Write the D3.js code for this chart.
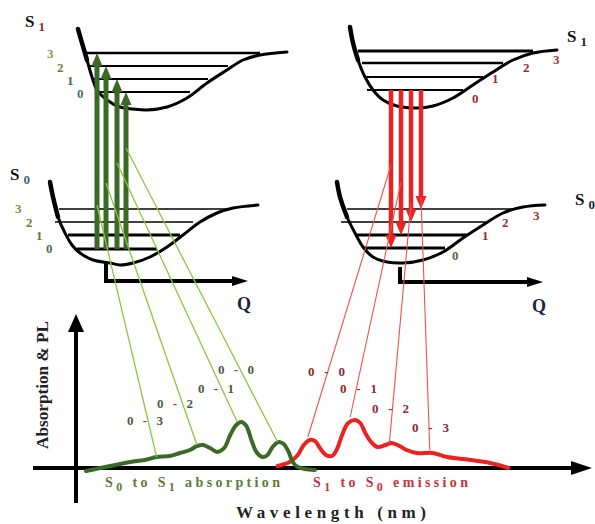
<!DOCTYPE html>
<html><head><meta charset="utf-8">
<script src="https://cdn.jsdelivr.net/npm/d3@7"></script>
<style>
html,body{margin:0;padding:0;background:#fff;}
svg{display:block;}
</style></head><body>
<svg id="c" width="595" height="524"></svg>
<script>
// ---------- DATA ----------
// Spectra: wavelength (nm) and relative intensity
const absNm = [310,324,339,354,368,380,393,403,413,420,426,433,440,447,453,459,464,469,474,479,485,490,495,501,506,511,515,520,527,537];
const absI  = [-0.06,0,0.06,0.12,0.16,0.22,0.24,0.30,0.36,0.44,0.46,0.40,0.32,0.40,0.66,0.86,0.92,0.84,0.56,0.32,0.22,0.26,0.42,0.52,0.48,0.32,0.12,0.02,-0.02,-0.04];
const emNm  = [500,512,520,526,532,537,542,548,554,559,564,570,577,582,587,592,599,607,613,621,628,638,654,668,684,711,729];
const emI   = [0.04,0.12,0.26,0.46,0.56,0.54,0.40,0.26,0.24,0.38,0.66,0.90,0.96,0.90,0.70,0.54,0.42,0.46,0.50,0.44,0.36,0.30,0.30,0.22,0.18,0.10,0];

// Potential wells: [configuration coordinate Q, energy E]
const wellS1Abs = [[15.6,54.2],[16.4,51.4],[17.4,48],[18.4,44.6],[19.4,42],[21.4,40],[24,38.6],[26.6,38.2],[29.4,38],[33.4,38.6],[37.4,40.4],[41.4,43.4],[45.4,46],[48.6,48],[52,49],[57.4,49.6]];
const wellS0Abs = [[10,23.6],[10.6,20.6],[11.6,16.6],[13,13.4],[14.4,11],[16,9.4],[18.6,8],[22,7.4],[24,7],[26.6,7.4],[30,8.6],[33.4,10.6],[36.6,13],[40,15.6],[43.4,17.4],[46.6,18.4],[51.6,19]];
const wellS1Em  = [[70,54.6],[70.6,51.4],[71.6,48],[73,44.6],[74.6,42],[76.6,40],[79.4,38.8],[83.4,38.4],[86.6,38.8],[90.6,40.4],[94.6,43],[98.6,45.6],[102.6,48],[106.6,49.4],[111.4,50]];
const wellS0Em  = [[67.4,23.6],[68,20.6],[69.4,16.6],[71,13.4],[72.6,10.6],[74.6,8.6],[77.4,7.6],[80.6,7.4],[84.6,8],[88.6,9.6],[92.6,12.4],[96.6,15],[100.6,17.4],[104.6,18.6],[109,19]];

// Vibrational levels: energy, Q start, Q end (levels 3,2,1,0)
const levelsS1AbsE = [49.4,46.8,44.2,41.6];
const levelsS1AbsQ = [[17,52],[18,45.6],[18.6,41.6],[19.6,38]];
const levelsS0AbsE = [18.2,15.6,13,10.2];
const levelsS0AbsQ = [[11.8,46],[11,38.6],[13.6,36],[15.4,31.4]];
const levelsS1EmE  = [49.8,47.4,44.6,42];
const levelsS1EmQ  = [[71.6,106.6],[72.4,100.6],[73,96.6],[73.4,92.6]];
const levelsS0EmE  = [18.2,15.6,13,10.4];
const levelsS0EmQ  = [[69.4,102.6],[68.2,97.4],[71,93.4],[72.6,89]];
const levelNames = ["3","2","1","0"];

// Vertical transitions
const absArrowQ = [19.4,21.2,23.4,25.2];
const absArrowTo = [49.4,46.8,44.2,41.6];
const emArrowQ = [78.2,80.2,82.2,84.2];
const emArrowTo = [10.4,13,15.6,18.2];

// Connections from transitions to spectral peaks
const absLinkE  = [19,23.4,27.4,30.4];
const absPeakNm = [380,420,460,500];
const absPeakI  = [0.22,0.46,0.92,0.52];
const absLabels = ["0 - 3","0 - 2","0 - 1","0 - 0"];
const emLinkE   = [27,23.6,19.4,20.6];
const emPeakNm  = [530,572,611,651];
const emPeakI   = [0.62,1.02,0.52,0.36];
const emLabels  = ["0 - 0","0 - 1","0 - 2","0 - 3"];

// ---------- SCALES ----------
const qx = d3.scaleLinear().domain([0,119]).range([0,595]);
const ey = d3.scaleLinear().domain([0,60]).range([300,0]);
const wx = d3.scaleLinear().domain([300,800]).range([76,580]);
const iy = d3.scaleLinear().domain([0,1]).range([468,418]);

const svg = d3.select("#c");
const FONT = "Liberation Serif";
const cGreen = "#3b6a27", cRed = "#ec2222", cLightGreen = "#8dc63f", cLightRed = "#f0504f";

// ---------- WELLS ----------
const wellLine = d3.line().x(d=>qx(d[0])).y(d=>ey(d[1])).curve(d3.curveCatmullRom);
function drawLevels(E, Q, widths){
  svg.append("g").selectAll("line").data(E).join("line")
    .attr("x1",(d,i)=>qx(Q[i][0])).attr("x2",(d,i)=>qx(Q[i][1]))
    .attr("y1",d=>ey(d)).attr("y2",d=>ey(d))
    .attr("stroke","#000").attr("stroke-width",(d,i)=>widths[i]);
}
drawLevels(levelsS1AbsE, levelsS1AbsQ, [2.5,2,2,2]);
drawLevels(levelsS0AbsE, levelsS0AbsQ, [1.5,1.5,3,3]);
drawLevels(levelsS1EmE, levelsS1EmQ, [3,2.5,2,2]);
drawLevels(levelsS0EmE, levelsS0EmQ, [1.5,1.5,3,3]);
[wellS1Abs, wellS0Abs, wellS1Em, wellS0Em].forEach(w=>{
  svg.append("path").datum(w).attr("d",wellLine).attr("fill","none")
    .attr("stroke","#000").attr("stroke-width",3).attr("stroke-linecap","round");
  svg.append("path").datum(w.slice(0,3)).attr("d",wellLine).attr("fill","none")
    .attr("stroke","#000").attr("stroke-width",4.5).attr("stroke-linecap","round");
});

// Q axes
function qAxis(q0, e0, e1, q1){
  const x0 = qx(q0), y1 = ey(e1), xe = qx(q1);
  svg.append("path").attr("d",`M${x0},${ey(e0)}V${y1}H${xe-12}`)
    .attr("fill","none").attr("stroke","#000").attr("stroke-width",4);
  svg.append("path").attr("d",`M${xe},${y1}L${xe-16},${y1-5}L${xe-16},${y1+5}Z`).attr("fill","#000");
}
qAxis(21.2, 7.4, 3.8, 49.6);
qAxis(80, 6.6, 3.6, 108.6);

// ---------- ARROWS ----------
const absG = svg.append("g");
absArrowQ.forEach((q,i)=>{
  const x = qx(q), y0 = ey(levelsS0AbsE[3]), y1 = ey(absArrowTo[i]);
  absG.append("line").attr("x1",x).attr("x2",x).attr("y1",y0).attr("y2",y1+10)
    .attr("stroke",cGreen).attr("stroke-width",5);
  absG.append("path").attr("d",`M${x},${y1}L${x-5.5},${y1+13}L${x+5.5},${y1+13}Z`).attr("fill",cGreen);
});
const emG = svg.append("g");
emArrowQ.forEach((q,i)=>{
  const x = qx(q), y0 = ey(levelsS1EmE[3]), y1 = ey(emArrowTo[i]);
  emG.append("line").attr("x1",x).attr("x2",x).attr("y1",y0).attr("y2",y1-10)
    .attr("stroke",cRed).attr("stroke-width",4.5);
  emG.append("path").attr("d",`M${x},${y1}L${x-5.5},${y1-13}L${x+5.5},${y1-13}Z`).attr("fill",cRed);
});

// ---------- SPECTRUM AXES ----------
svg.append("line").attr("x1",76).attr("x2",76).attr("y1",503).attr("y2",326)
  .attr("stroke","#000").attr("stroke-width",4);
svg.append("path").attr("d","M76,314L68,332L84,332Z").attr("fill","#000");
svg.append("line").attr("x1",33).attr("x2",575).attr("y1",468).attr("y2",468)
  .attr("stroke","#000").attr("stroke-width",4);
svg.append("path").attr("d","M592,468L571,461L571,475Z").attr("fill","#000");

// ---------- SPECTRA ----------
const specLine = d3.line().x(d=>wx(d[0])).y(d=>iy(d[1])).curve(d3.curveCatmullRom);
svg.append("path").datum(emNm.map((n,i)=>[n,emI[i]])).attr("d",specLine)
  .attr("fill","none").attr("stroke",cRed).attr("stroke-width",4).attr("stroke-linejoin","round").attr("stroke-linecap","round");
svg.append("path").datum(absNm.map((n,i)=>[n,absI[i]])).attr("d",specLine)
  .attr("fill","none").attr("stroke",cGreen).attr("stroke-width",4).attr("stroke-linejoin","round").attr("stroke-linecap","round");

// ---------- LINKS ----------
absArrowQ.forEach((q,i)=>{
  svg.append("line").attr("x1",qx(q)).attr("y1",ey(absLinkE[i]))
    .attr("x2",wx(absPeakNm[i])).attr("y2",iy(absPeakI[i]))
    .attr("stroke",cLightGreen).attr("stroke-width",1.3);
});
emArrowQ.forEach((q,i)=>{
  svg.append("line").attr("x1",qx(q)).attr("y1",ey(emLinkE[i]))
    .attr("x2",wx(emPeakNm[i])).attr("y2",iy(emPeakI[i]))
    .attr("stroke",cLightRed).attr("stroke-width",1.1);
});

// ---------- TEXT ----------
function newText(x, y, color, size){
  return svg.append("text").attr("x",x).attr("y",y).attr("fill",color)
    .attr("font-family",FONT).attr("font-weight","bold").attr("font-size",size);
}
function spaced(x, y, parts, target, color, size){
  const t = newText(x, y, color, size);
  let n = 0;
  parts.forEach(p=>{
    const s = t.append("tspan").text(p.t);
    if (p.dy) s.attr("dy",p.dy);
    if (p.size) s.attr("font-size",p.size);
    n += p.t.length;
  });
  const w = t.node().getComputedTextLength();
  t.attr("letter-spacing", ((target - w)/Math.max(1,n-1)));
  return t;
}
function stateLabel(x, y, sub, subColor){
  const t = newText(x, y, "#111", 17);
  t.append("tspan").text("S");
  t.append("tspan").text(sub).attr("dx",4).attr("dy",4).attr("fill",subColor).attr("font-size",13);
}
stateLabel(25, 27, "1", "#8a2b2b");
stateLabel(10, 180, "0", "#3f5f80");
stateLabel(567, 42, "1", "#222");
stateLabel(575, 205, "0", "#222");

function nums(pos, colors){
  pos.forEach((p,i)=>newText(p[0], p[1], colors[i], 13).text(levelNames[i]));
}
nums([[47,58],[57,72],[67,85],[77,98]], ["#8a9a45","#6d8236","#4f6b3a","#4e6a78"]);
nums([[15,213],[26,227],[36,240],[46,253]], ["#7d9040","#6d8236","#5a7a35","#556b50"]);
nums([[553,64],[523,72],[492,83],[472,103]], ["#a8323a","#a3282e","#a3282e","#a3282e"]);
nums([[533,220],[502,227],[482,240],[452,260]], ["#a8323a","#a3282e","#a3282e","#6a5a50"]);

newText(237, 310, "#1a2440", 18).text("Q");
newText(532, 312, "#1a2440", 18).text("Q");

const absLabelPos = [[127,425],[157,408],[198,393],[218,374]];
const emLabelPos  = [[308,376],[340,393],[372,413],[412,432]];
absLabels.forEach((l,i)=>spaced(absLabelPos[i][0], absLabelPos[i][1], [{t:l}], 36, "#4b5a3c", 13));
emLabels.forEach((l,i)=>spaced(emLabelPos[i][0], emLabelPos[i][1], [{t:l}], 37, "#8e2a2a", 13));

spaced(105, 487, [{t:"S"},{t:"0",dy:4,size:12},{t:" to S",dy:-4},{t:"1",dy:4,size:12},{t:" absorption",dy:-4}], 175, "#5b7a3c", 14);
spaced(313, 487, [{t:"S"},{t:"1",dy:4,size:12},{t:" to S",dy:-4},{t:"0",dy:4,size:12},{t:" emission",dy:-4}], 155, "#c8323a", 14);

newText(0, 0, "#222", 17).attr("transform","translate(48,385) rotate(-90)").attr("text-anchor","middle")
  .attr("textLength",128).attr("lengthAdjust","spacingAndGlyphs").text("Absorption & PL");
spaced(236, 518, [{t:"Wavelength (nm)"}], 190, "#222", 17);
</script>
</body></html>
